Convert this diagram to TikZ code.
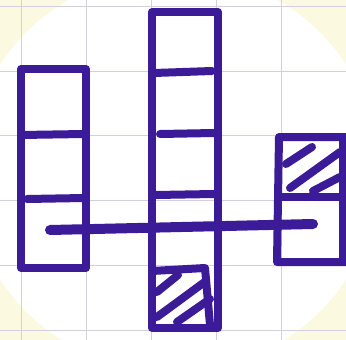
\documentclass[tikz,border=0pt]{standalone}
\begin{document}
\begin{tikzpicture}[x=1pt,y=-1pt,
  ink/.style={draw=inkc,line width=8pt,line cap=round,line join=round},
  hatch/.style={draw=inkc,line width=8pt,line cap=round},
  gridl/.style={draw=gridc,line width=0.7pt}]
\definecolor{inkc}{HTML}{3B1B98}
\definecolor{gridc}{HTML}{D2D0DE}
\definecolor{paper}{HTML}{FBFAE0}
\useasboundingbox (0,0) rectangle (346,340);
\fill[paper] (0,0) rectangle (346,340);
\fill[white] (173,172) ellipse (205 and 200);
\foreach \gx in {21,86,151,216,281}
  \draw[gridl] (\gx,0) -- (\gx,340);
\foreach \gy in {6,71,135,200,265,330}
  \draw[gridl] (0,\gy) -- (346,\gy);
% left column
\coordinate (L1) at (21,69); \coordinate (L2) at (86,69);
\coordinate (L3) at (86,268); \coordinate (L4) at (21,268);
\draw[ink] (L1) -- (L4) -- (L3) -- (L2) -- (L1);
\draw[ink] (21,135) -- (84,134);
\draw[ink] (27,199) -- (84,198);
% middle column
\coordinate (M1) at (152,12); \coordinate (M2) at (218,12);
\coordinate (M3) at (218,328); \coordinate (M4) at (152,328);
\draw[ink] (M1) -- (M4) -- (M3) -- (M2) -- cycle;
\draw[ink] (154,73) -- (212,71);
\draw[ink] (160,134) -- (214,133);
\draw[ink] (156,195) -- (214,194);
\draw[ink] (152,271) -- (205,268) -- (210,325);
\draw[hatch] (157,292) -- (178,275);
\draw[hatch] (157,317) -- (206,281);
\draw[hatch] (177,322) -- (210,299);
% right column
\coordinate (R1) at (346,137); \coordinate (R2) at (279,137);
\coordinate (R3) at (277,262); \coordinate (R4) at (346,262);
\draw[ink] (R1) -- (R2) -- (R3) -- (R4);
\draw[ink] (343,137) -- (343,262);
\draw[ink] (281,197) -- (346,197);
\draw[hatch] (286,164) -- (312,147);
\draw[hatch] (290,188) -- (340,152);
\draw[hatch] (313,191) -- (340,177);
% horizontal bar
\coordinate (H1) at (50,230); \coordinate (H2) at (313,224);
\draw[draw=inkc,line width=10pt,line cap=round] (H1) -- (H2);
\end{tikzpicture}
\end{document}
